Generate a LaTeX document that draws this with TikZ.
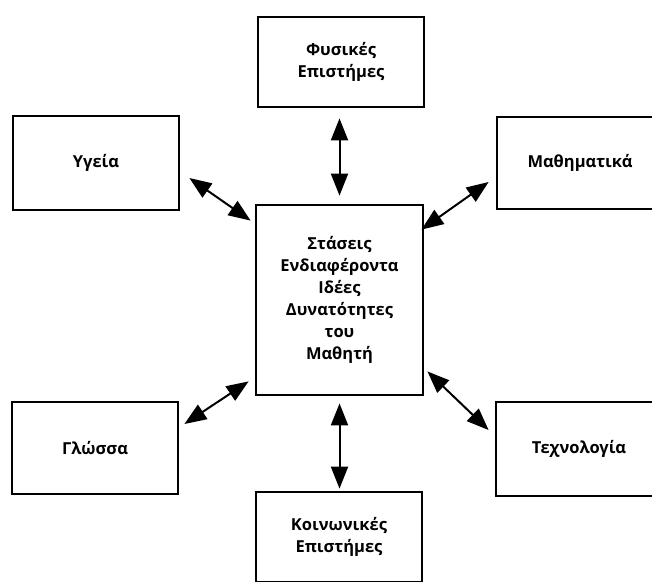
\documentclass[tikz,border=0pt]{standalone}
\usepackage{fontspec}
\setmainfont{Open Sans}
\usetikzlibrary{arrows.meta}
\begin{document}
\begin{tikzpicture}[x=1pt,y=-1pt,
  box/.style={draw, line width=2.8pt, minimum width=166pt, inner sep=0pt, align=center, font=\fontsize{16.5}{22}\selectfont\bfseries},
  dbl/.style={{Triangle[length=22pt,width=17pt]}-{Triangle[length=22pt,width=17pt]}, line width=2pt}]
\useasboundingbox (0,0) rectangle (652,581);
\clip (0,0) rectangle (652,581);
\fill[white] (0,0) rectangle (652,581);
\node[box, minimum height=90pt] (phys) at (341,62) {Φυσικές\\Επιστήμες};
\node[box, minimum height=94pt] (ygeia) at (96,163) {Υγεία};
\node[box, minimum height=92pt] (math) at (580,163) {Μαθηματικά};
\node[box, minimum height=190pt, minimum width=167pt] (cent) at (339.5,300) {Στάσεις\\Ενδιαφέροντα\\Ιδέες\\Δυνατότητες\\του\\Μαθητή};
\node[box, minimum height=92pt] (gloss) at (95,448) {Γλώσσα};
\node[box, minimum height=94pt] (tech) at (579,449) {Τεχνολογία};
\node[box, minimum height=90pt] (koin) at (339,537) {Κοινωνικές\\Επιστήμες};
\draw[dbl] ([shift={(0,10)}]phys.south -| cent.north) -- ([shift={(0,-8)}]cent.north);
\draw[dbl] ([shift={(0,7)}]cent.south) -- ([shift={(0,-2)}]koin.north -| cent.south);
\draw[dbl] ([shift={(9,15)}]ygeia.east) -- ([shift={(-4,17)}]cent.north west);
\draw[dbl] ([shift={(-7,19)}]math.west) -- ([shift={(-3,26)}]cent.north east);
\draw[dbl] ([shift={(5,-24)}]gloss.east) -- ([shift={(-6,-15)}]cent.south west);
\draw[dbl] ([shift={(-6,-19)}]tech.west) -- ([shift={(3,-25)}]cent.south east);
\end{tikzpicture}
\end{document}
